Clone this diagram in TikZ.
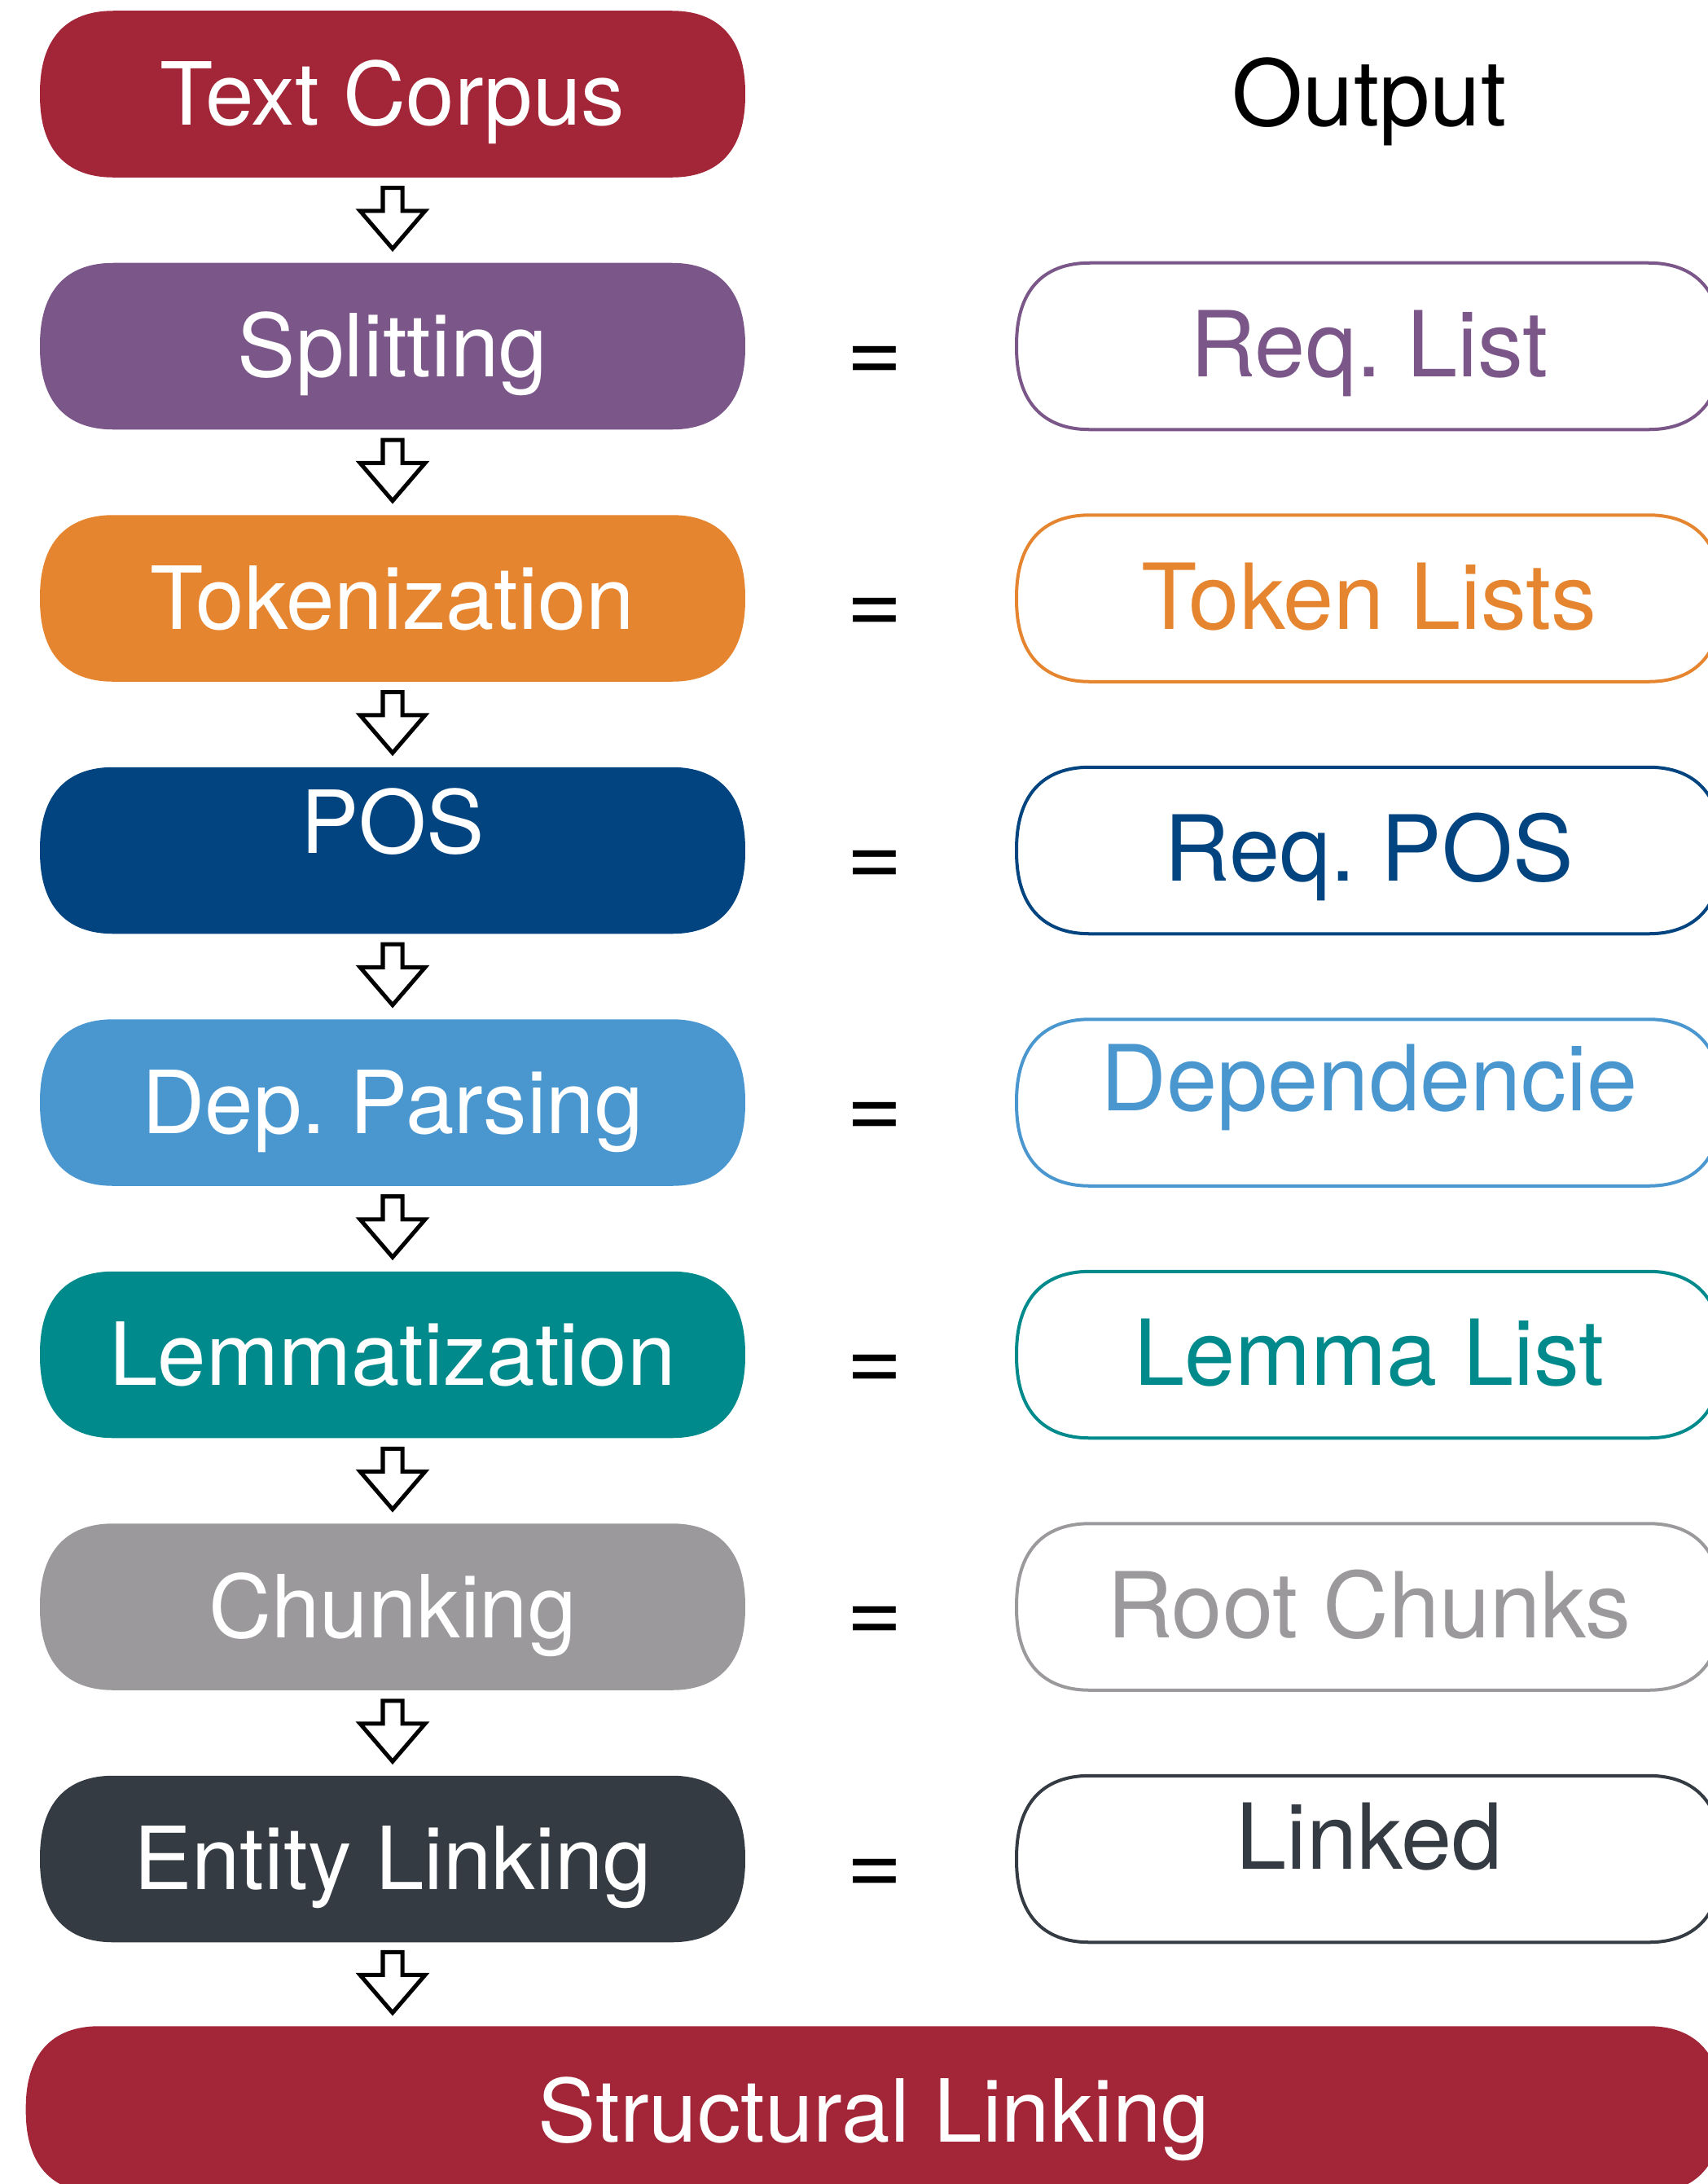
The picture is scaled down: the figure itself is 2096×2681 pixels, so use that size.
\documentclass[tikz,border=0pt]{standalone}
\usepackage{fontspec}
\setmainfont{TeX Gyre Heros}
\usetikzlibrary{calc}

\definecolor{corpusred}{RGB}{163,38,56}
\definecolor{splitpurple}{RGB}{123,86,137}
\definecolor{tokenorange}{RGB}{230,133,47}
\definecolor{posnavy}{RGB}{2,68,127}
\definecolor{depsky}{RGB}{74,151,208}
\definecolor{lemmateal}{RGB}{0,138,140}
\definecolor{chunkgrey}{RGB}{155,153,156}
\definecolor{linkslate}{RGB}{53,59,67}

\pgfdeclarelayer{background}
\pgfsetlayers{background,main}

% corner geometry of the soft boxes
\newcommand\bxrx{0.9cm}
\newcommand\bxry{1.0cm}
\newcommand\bxk{0.35}

\newcommand\stagefont{\fontsize{30.4pt}{36pt}\selectfont}
\newcommand\resultfont{\fontsize{31.8pt}{38pt}\selectfont}
\newcommand\headfont{\fontsize{31.9pt}{38pt}\selectfont}
\newcommand\eqfont{\fontsize{33.5pt}{40pt}\selectfont}

% soft-cornered outline around a node, drawn behind its text
\newcommand\softbox[2]{%
  \begin{pgfonlayer}{background}
  \path[#2] let \p1=(#1.south west), \p2=(#1.north east) in
    (\x1+\bxrx,\y2) -- (\x2-\bxrx,\y2)
    .. controls (\x2-\bxk*\bxrx,\y2) and (\x2,\y2-\bxk*\bxry) .. (\x2,\y2-\bxry)
    -- (\x2,\y1+\bxry)
    .. controls (\x2,\y1+\bxk*\bxry) and (\x2-\bxk*\bxrx,\y1) .. (\x2-\bxrx,\y1)
    -- (\x1+\bxrx,\y1)
    .. controls (\x1+\bxk*\bxrx,\y1) and (\x1,\y1+\bxk*\bxry) .. (\x1,\y1+\bxry)
    -- (\x1,\y2-\bxry)
    .. controls (\x1,\y2-\bxk*\bxry) and (\x1+\bxk*\bxrx,\y2) .. (\x1+\bxrx,\y2)
    -- cycle;
  \end{pgfonlayer}}

% hollow block arrow between two stacked nodes
\newcommand\flowarrow[2]{%
  \draw[blockarrow] let \p1=(#1.south), \p2=(#2.north), \n1={0.5*(\y1+\y2)} in
    (\x1-0.12cm,\n1+0.395cm) -- (\x1+0.12cm,\n1+0.395cm)
    -- (\x1+0.12cm,\n1+0.115cm) -- (\x1+0.40cm,\n1+0.115cm)
    -- (\x1,\n1-0.35cm) -- (\x1-0.40cm,\n1+0.115cm)
    -- (\x1-0.12cm,\n1+0.115cm) -- cycle;}

\tikzset{
  stage/.style={minimum width=8.64cm, minimum height=2.03cm, inner sep=0pt,
    text=white, font=\stagefont, text height=0.75cm, text depth=0pt},
  result/.style={minimum width=8.64cm, minimum height=2.03cm, inner sep=0pt,
    font=\resultfont, text height=0.75cm, text depth=0pt},
  eqsign/.style={anchor=base, inner sep=0pt, font=\eqfont},
  blockarrow/.style={draw=black, fill=white, line width=0.05cm, miter limit=10},
  outline/.style={draw=#1, line width=0.04cm},
}

\begin{document}
\frenchspacing
\begin{tikzpicture}[x=0.01cm, y=0.01cm]
\useasboundingbox (0,0) rectangle (2096,-2681);

% processing stages
\node[stage] (corpus) at (482,-115.5)  {Text Corpus};
\node[stage] (split)  at (482,-425)    {Splitting};
\node[stage] (token)  at (482,-734.5)  {Tokenization};
\node[stage, text height=0.06cm] (pos) at (482,-1044) {POS};
\node[stage] (dep)    at (482,-1353.5) {Dep. Parsing};
\node[stage] (lemma)  at (482,-1663)   {Lemmatization};
\node[stage] (chunk)  at (482,-1972.5) {Chunking};
\node[stage] (entity) at (482,-2282)   {Entity Linking};
\node[stage, minimum width=20.8cm, text height=0.79cm] (struct) at (1073,-2589.5) {Structural Linking};

\softbox{corpus}{fill=corpusred}
\softbox{split}{fill=splitpurple}
\softbox{token}{fill=tokenorange}
\softbox{pos}{fill=posnavy}
\softbox{dep}{fill=depsky}
\softbox{lemma}{fill=lemmateal}
\softbox{chunk}{fill=chunkgrey}
\softbox{entity}{fill=linkslate}
\softbox{struct}{fill=corpusred}

% outputs of each stage
\node[anchor=base, inner sep=0pt, font=\headfont] (outhead) at (1681,-154) {Output};
\node[result, text=splitpurple] (out1) at (1681,-425)    {Req. List};
\node[result, text=tokenorange] (out2) at (1681,-734.5)  {Token Lists};
\node[result, text=posnavy]     (out3) at (1681,-1044)   {Req. POS};
\node[result, text=depsky, text height=0.20cm] (out4) at (1681,-1353.5) {Dependencie};
\node[result, text=lemmateal]   (out5) at (1681,-1663)   {Lemma List};
\node[result, text=chunkgrey]   (out6) at (1681,-1972.5) {Root Chunks};
\node[result, text=linkslate, text height=0.24cm] (out7) at (1681,-2282) {Linked};

\softbox{out1}{outline=splitpurple}
\softbox{out2}{outline=tokenorange}
\softbox{out3}{outline=posnavy}
\softbox{out4}{outline=depsky}
\softbox{out5}{outline=lemmateal}
\softbox{out6}{outline=chunkgrey}
\softbox{out7}{outline=linkslate}

% equality signs between stage and output
\node[eqsign] (eq1) at (1074,-469)    {=};
\node[eqsign] (eq2) at (1074,-778.5)  {=};
\node[eqsign] (eq3) at (1074,-1088)   {=};
\node[eqsign] (eq4) at (1074,-1397.5) {=};
\node[eqsign] (eq5) at (1074,-1707)   {=};
\node[eqsign] (eq6) at (1074,-2016.5) {=};
\node[eqsign] (eq7) at (1074,-2326)   {=};

% flow between stages
\flowarrow{corpus}{split}
\flowarrow{split}{token}
\flowarrow{token}{pos}
\flowarrow{pos}{dep}
\flowarrow{dep}{lemma}
\flowarrow{lemma}{chunk}
\flowarrow{chunk}{entity}
\flowarrow{entity}{struct}
\end{tikzpicture}
\end{document}
